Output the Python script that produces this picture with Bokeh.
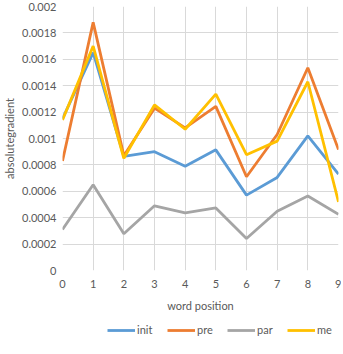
from bokeh.plotting import figure
from bokeh.models import FixedTicker, PrintfTickFormatter, Legend, LegendItem, Range1d
from bokeh.layouts import column
from bokeh.embed import file_html
from bokeh.resources import INLINE

positions = [0, 1, 2, 3, 4, 5, 6, 7, 8, 9]
init = [0.00115, 0.00165, 0.000865, 0.0009, 0.00079, 0.000914, 0.000571, 0.000705, 0.00102, 0.00073]
pre = [0.00083, 0.00188, 0.00087, 0.00123, 0.00108, 0.001243, 0.00071, 0.00103, 0.001536, 0.000916]
par = [0.00031, 0.00065, 0.000278, 0.00049, 0.000437, 0.000474, 0.000242, 0.000449, 0.000564, 0.000425]
merge = [0.00114, 0.0017, 0.00085, 0.001255, 0.00107, 0.001336, 0.000877, 0.00098, 0.00143, 0.00052]
y_ticks = [0, 0.0002, 0.0004, 0.0006, 0.0008, 0.001, 0.0012, 0.0014, 0.0016, 0.0018, 0.002]

FONT = "Lato"
TXT = "#595959"
GRID = "#d9d9d9"

series = [("init", init, "#5B9BD5"), ("pre", pre, "#ED7D31"),
          ("par", par, "#A5A5A5"), ("merge", merge, "#FFC000")]

p = figure(frame_width=276, frame_height=264, output_backend="svg", toolbar_location=None,
           x_range=Range1d(0, 9), y_range=Range1d(0, 0.002),
           min_border_left=56, min_border_right=3, min_border_top=6, min_border_bottom=44)
p.outline_line_color = None

for name, vals, col in series:
    p.line(positions, vals, line_color=col, line_width=2.8)

p.xaxis.ticker = FixedTicker(ticks=positions)
p.yaxis.ticker = FixedTicker(ticks=y_ticks)
p.yaxis.formatter = PrintfTickFormatter(format="%g")
for ax in (p.xaxis, p.yaxis):
    ax.axis_line_color = None
    ax.major_tick_line_color = None
    ax.minor_tick_line_color = None
    ax.major_tick_in = 0
    ax.major_tick_out = 0
    ax.major_label_text_font = FONT
    ax.major_label_text_font_size = "11px"
    ax.major_label_text_color = TXT
    ax.axis_label_text_font = FONT
    ax.axis_label_text_font_size = "11px"
    ax.axis_label_text_color = TXT
    ax.axis_label_text_font_style = "normal"
p.xaxis.axis_label = "word position"
p.yaxis.axis_label = "absolutegradient"
p.xaxis.major_label_standoff = 9
p.xaxis.axis_label_standoff = 8
p.yaxis.major_label_standoff = 6
p.yaxis.axis_label_standoff = 3

p.xgrid.grid_line_color = GRID
p.ygrid.grid_line_color = GRID
p.xgrid.grid_line_width = 1
p.ygrid.grid_line_width = 1

# legend strip below the chart
lp = figure(width=335, height=24, output_backend="svg", toolbar_location=None,
            x_range=Range1d(0, 9), y_range=Range1d(0, 0.002),
            min_border_left=0, min_border_right=0, min_border_top=0, min_border_bottom=0)
lp.axis.visible = False
lp.grid.visible = False
lp.outline_line_color = None
items = []
for name, vals, col in series:
    r = lp.line(positions, vals, line_color=col, line_width=2.8, visible=False)
    items.append(LegendItem(label=name, renderers=[r]))

legend = Legend(items=items, orientation="horizontal", location=(45, 2),
                border_line_color=None, background_fill_alpha=0, inactive_fill_alpha=0,
                label_text_font=FONT, label_text_font_size="11px", label_text_color=TXT,
                glyph_width=28, glyph_height=12, label_standoff=2, spacing=10,
                padding=2, margin=0, label_height=12)
lp.add_layout(legend)

layout = column(p, lp, spacing=0)
open("out.html", "w").write(file_html(layout, INLINE))
